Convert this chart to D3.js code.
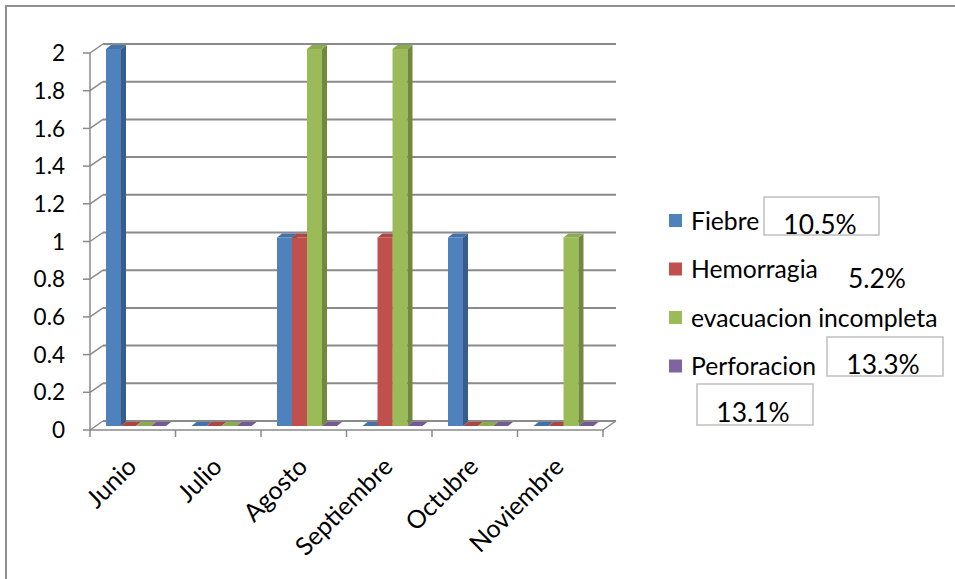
<!DOCTYPE html>
<html>
<head>
<meta charset="utf-8">
<script src="https://cdn.jsdelivr.net/npm/d3@7/dist/d3.min.js"></script>
<style>
  html, body { margin: 0; padding: 0; background: #fff; }
  svg { display: block; font-family: Lato, "Open Sans", sans-serif; }
</style>
</head>
<body>
<svg id="chart" width="955" height="579"></svg>
<script>
// Monthly complication counts
const months = ["Junio", "Julio", "Agosto", "Septiembre", "Octubre", "Noviembre"];
const seriesNames = ["Fiebre", "Hemorragia", "evacuacion incompleta", "Perforacion"];
const fiebre = [2, 0, 1, 0, 1, 0];
const hemorragia = [0, 0, 1, 1, 0, 0];
const evacuacion = [0, 0, 2, 2, 0, 1];
const perforacion = [0, 0, 0, 0, 0, 0];
const yTicks = [0, 0.2, 0.4, 0.6, 0.8, 1, 1.2, 1.4, 1.6, 1.8, 2];
const noteLabels = ["10.5%", "5.2%", "13.3%", "13.1%"];

const seriesValues = [fiebre, hemorragia, evacuacion, perforacion];
const faceColors = ["#4F81BD", "#C0504D", "#9BBB59", "#8064A2"];
const sideColors = ["#385D8A", "#8C3836", "#71893F", "#5C4776"];
const topColors  = ["#4473AC", "#AD4744", "#8CAA4F", "#735A93"];

const svg = d3.select("#chart");
const AXIS_FONT = 22.5;
const CAT_FONT = 25;
const LEGEND_FONT = 24.7;
const NOTE_FONT = 26.4;
const gridColor = "#8a8a8a";

// Outer frame
svg.append("path")
  .attr("d", "M6,579 L6,6 L955,6")
  .attr("fill", "none").attr("stroke", "#8f8f8f").attr("stroke-width", 2);

// Front plane scales; the back wall is offset by a fixed depth
const x = d3.scaleBand().domain(months).range([90, 603]).padding(0);
const y = d3.scaleLinear().domain([0, 2]).range([430, 53]);
const depth = { dx: 13, dy: -9 };

// Series slots inside each month, drawn at mid depth
const xs = d3.scaleBand().domain(seriesNames).range([16, 76]).padding(0);
const barShift = -4;          // bars stand halfway into the floor
const barDepth = { dx: 5, dy: -4 };

// Back wall gridlines
const grid = svg.append("g");
grid.selectAll("line.h").data(yTicks).join("line")
  .attr("x1", x.range()[0] + depth.dx).attr("x2", x.range()[1] + depth.dx)
  .attr("y1", d => y(d) + depth.dy).attr("y2", d => y(d) + depth.dy)
  .attr("stroke", gridColor).attr("stroke-width", 2);

// Left wall: diagonal links from axis to back wall
grid.selectAll("line.d").data(yTicks).join("line")
  .attr("x1", x.range()[0]).attr("x2", x.range()[0] + depth.dx)
  .attr("y1", d => y(d)).attr("y2", d => y(d) + depth.dy)
  .attr("stroke", gridColor).attr("stroke-width", 1.5);

// Vertical value axis and tick marks
grid.append("line")
  .attr("x1", 90).attr("x2", 90).attr("y1", y(0)).attr("y2", y(2))
  .attr("stroke", gridColor).attr("stroke-width", 1.5);
grid.selectAll("line.t").data(yTicks).join("line")
  .attr("x1", 83).attr("x2", 90)
  .attr("y1", d => y(d)).attr("y2", d => y(d))
  .attr("stroke", gridColor).attr("stroke-width", 1.5);

// Floor front edge and right edge
grid.append("path")
  .attr("d", `M${x.range()[0]},${y(0)} L${x.range()[1]},${y(0)} L${x.range()[1] + depth.dx},${y(0) + depth.dy}`)
  .attr("fill", "none").attr("stroke", gridColor).attr("stroke-width", 1.5);

// Category tick marks
const catEdges = months.map(m => x(m)).concat([x.range()[1]]);
grid.selectAll("line.c").data(catEdges).join("line")
  .attr("x1", d => d).attr("x2", d => d)
  .attr("y1", y(0)).attr("y2", y(0) + 7)
  .attr("stroke", gridColor).attr("stroke-width", 1.5);

// Y tick labels
svg.append("g").selectAll("text").data(yTicks).join("text")
  .attr("x", 65).attr("y", d => y(d))
  .attr("dy", "0.36em")
  .attr("text-anchor", "end")
  .attr("font-size", AXIS_FONT)
  .attr("fill", "#000")
  .text(d => String(+d.toFixed(1)));

// Month labels, rotated
svg.append("g").selectAll("text").data(months).join("text")
  .attr("transform", d => `translate(${x(d) + x.bandwidth() / 2 - 1},${y(0) + 32}) rotate(-45)`)
  .attr("text-anchor", "end")
  .attr("dy", "0.35em")
  .attr("font-size", CAT_FONT)
  .attr("fill", "#000")
  .text(d => d);

// 3D bars
const bars = svg.append("g");
months.forEach((m, mi) => {
  seriesNames.forEach((s, si) => {
    const v = seriesValues[si][mi];
    const x0 = x(m) + xs(s);
    const x1 = x0 + xs.bandwidth();
    const yb = y(0) + barShift;
    const yt = y(v) + barShift;
    const g = bars.append("g");
    const dx = barDepth.dx, dy = barDepth.dy;
    if (v > 0) {
      g.append("rect")
        .attr("x", x0).attr("y", yt).attr("width", x1 - x0).attr("height", yb - yt)
        .attr("fill", faceColors[si]);
      g.append("path")
        .attr("d", `M${x1},${yt} L${x1 + dx},${yt + dy} L${x1 + dx},${yb + dy} L${x1},${yb} Z`)
        .attr("fill", sideColors[si]);
    }
    g.append("path")
      .attr("d", `M${x0},${yt} L${x1},${yt} L${x1 + dx},${yt + dy} L${x0 + dx},${yt + dy} Z`)
      .attr("fill", topColors[si]);
  });
});

// Legend
const legend = svg.append("g");
const legendRows = [221, 269.5, 318, 366.5];
seriesNames.forEach((s, i) => {
  legend.append("rect")
    .attr("x", 669).attr("y", legendRows[i] - 7).attr("width", 13).attr("height", 13)
    .attr("fill", faceColors[i]);
  legend.append("text")
    .attr("x", 691).attr("y", legendRows[i]).attr("dy", "0.36em")
    .attr("font-size", LEGEND_FONT).attr("fill", "#000")
    .text(s);
});

// Percentage notes with their boxes
const notes = svg.append("g");
const noteBoxes = [
  { box: [764, 197, 115, 38], tx: 820, ty: 234 },
  { box: null, tx: 877, ty: 288 },
  { box: [827, 337, 116, 39], tx: 883, ty: 374 },
  { box: [697, 384, 116, 41], tx: 753, ty: 422 }
];
noteLabels.forEach((t, i) => {
  const nb = noteBoxes[i];
  if (nb.box) {
    notes.append("rect")
      .attr("x", nb.box[0]).attr("y", nb.box[1]).attr("width", nb.box[2]).attr("height", nb.box[3])
      .attr("fill", "none").attr("stroke", "#bfbfbf").attr("stroke-width", 1.5);
  }
  notes.append("text")
    .attr("x", nb.tx).attr("y", nb.ty)
    .attr("text-anchor", "middle")
    .attr("font-size", NOTE_FONT).attr("fill", "#000")
    .text(t);
});
</script>
</body>
</html>
